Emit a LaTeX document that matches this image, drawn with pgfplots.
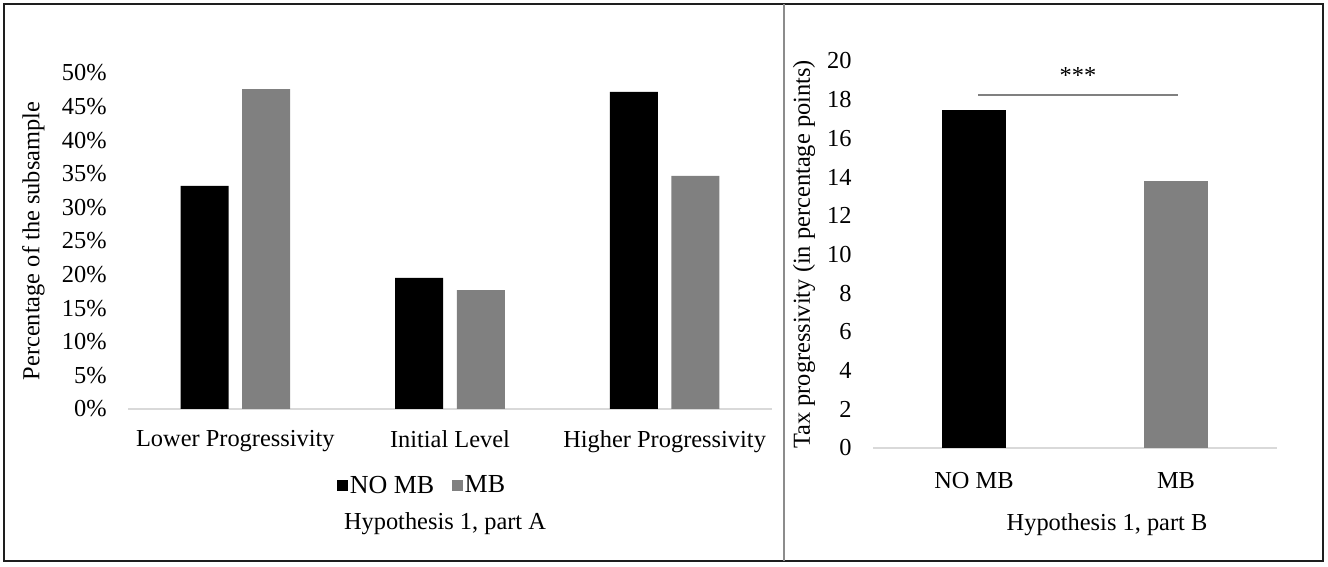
\documentclass[border=0pt]{standalone}
\usepackage{pgfplots}
\pgfplotsset{compat=1.18}
\usepackage{fontspec}
\setmainfont{Liberation Serif}

\definecolor{nomb}{RGB}{0,0,0}
\definecolor{mb}{RGB}{128,128,128}
\definecolor{baseline}{RGB}{217,217,217}
\definecolor{frame}{RGB}{30,30,30}
\definecolor{divider}{RGB}{140,140,140}

% 1 px of the reference = 0.5pt
\newcommand{\chartfont}{\fontsize{12.2}{14}\selectfont}

\pgfplotsset{
  excelbar/.style={
    scale only axis,
    ybar,
    ymin=0,
    axis x line*=bottom,
    axis y line*=left,
    x axis line style={draw=baseline, line width=1pt, -},
    y axis line style={draw=none},
    major tick length=0pt,
    tick label style={font=\chartfont},
    label style={font=\chartfont},
    yticklabel style={inner sep=0pt, xshift=-10.5pt},
    /pgf/number format/assume math mode=true,
    clip=false,
  },
}

\pgfplotstableread{
x nomb mb
0 33.2 47.6
1 19.5 17.7
2 47.2 34.7
}\partA

\begin{document}
\begin{tikzpicture}[font=\chartfont]
  \useasboundingbox (0,0) rectangle (664pt,283.5pt);
  % frame and divider
  \draw[frame, line width=1pt] (2pt,3pt) rectangle (661.5pt,281.5pt);
  \draw[divider, line width=0.8pt] (392pt,3pt) -- (392pt,281.5pt);

  % Part A
  \begin{axis}[excelbar,
      at={(64pt,79pt)}, anchor=south west,
      width=322pt, height=168pt,
      xmin=-0.5, xmax=2.5,
      ymax=50,
      ytick={0,5,...,50},
      yticklabel={\pgfmathprintnumber{\tick}\%},
      xtick={0,1,2},
      xticklabels={Lower Progressivity, Initial Level, Higher Progressivity},
      xticklabel style={inner sep=0pt, yshift=-10.5pt},
      bar width=24pt,
      ylabel={Percentage of the subsample},
      every axis y label/.style={at={(axis description cs:-0.147,0.5)}, rotate=90, anchor=center},
      legend style={at={(axis description cs:0.457,-0.229)}, anchor=center, draw=none,
        legend columns=2, font=\fontsize{13}{15}\selectfont,
        /tikz/every even column/.append style={column sep=8pt},
        nodes={inner sep=1pt}},
      legend image code/.code={\fill[#1] (0pt,-2.4pt) rectangle (5.2pt,2.8pt);},
    ]
    \addplot[fill=nomb, draw=none, bar shift=-15.4pt] table[x=x, y=nomb] {\partA};
    \addplot[fill=mb, draw=none, bar shift=15.4pt] table[x=x, y=mb] {\partA};
    \legend{NO MB, MB}
  \end{axis}
  \node[anchor=base] at (222.5pt,18.5pt) {Hypothesis 1, part A};

  % Part B
  \begin{axis}[excelbar,
      at={(436.5pt,59.5pt)}, anchor=south west,
      width=202pt, height=193.5pt,
      xmin=-0.5, xmax=1.5,
      ymax=20,
      ytick={0,2,...,20},
      xtick={0,1},
      xticklabels={NO MB, MB},
      xticklabel style={inner sep=0pt, yshift=-12pt},
      bar width=32pt,
      bar shift=0pt,
      ylabel={Tax progressivity (in percentage points)},
      every axis y label/.style={at={(axis description cs:-0.171,0.5)}, rotate=90, anchor=center},
    ]
    \addplot[fill=nomb, draw=none] coordinates {(0,17.47)};
    \addplot[fill=mb, draw=none] coordinates {(1,13.8)};
    \draw[mb, line width=0.6pt] (axis cs:0.02,18.24) -- (axis cs:1.01,18.24);
    \node[anchor=base] at (axis cs:0.515,18.86) {***};
  \end{axis}
  \node[anchor=base] at (553.5pt,18pt) {Hypothesis 1, part B};
\end{tikzpicture}
\end{document}
